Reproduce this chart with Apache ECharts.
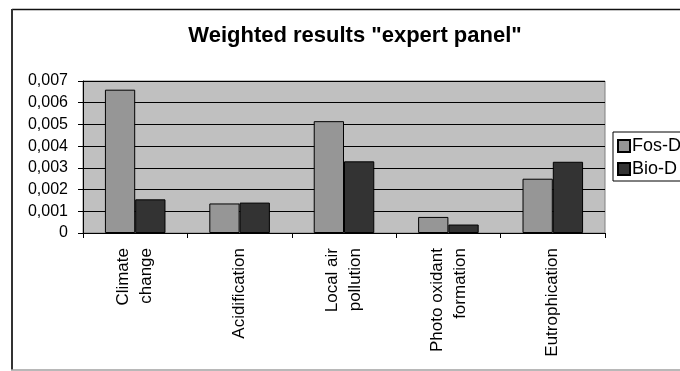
<!DOCTYPE html>
<html>
<head>
<meta charset="utf-8">
<script src="https://cdn.jsdelivr.net/npm/echarts@6/dist/echarts.min.js"></script>
<style>
  html, body { margin: 0; padding: 0; background: #fff; }
  #chart { width: 680px; height: 371px; }
</style>
</head>
<body>
<div id="chart"></div>
<script>
// Impact categories (line breaks as shown under the axis)
const categories = ['Climate\nchange', 'Acidification', 'Local air\npollution', 'Photo oxidant\nformation', 'Eutrophication'];
// Weighted scores per scenario
const fosD = [0.0066, 0.00136, 0.00515, 0.00074, 0.0025];
const bioD = [0.00155, 0.0014, 0.0033, 0.00039, 0.00328];
const seriesNames = ['Fos-D', 'Bio-D'];
const yTickLabels = ['0', '0,001', '0,002', '0,003', '0,004', '0,005', '0,006', '0,007'];

const FONT = 'Liberation Sans, Arial, sans-serif';
const chart = echarts.init(document.getElementById('chart'), null, { renderer: 'canvas' });

chart.setOption({
  animation: false,
  backgroundColor: '#ffffff',
  title: {
    text: 'Weighted results "expert panel"',
    left: 350, top: 20, textAlign: 'center',
    textStyle: { fontFamily: FONT, fontSize: 22, fontWeight: 'bold', color: '#000' }
  },
  legend: {
    orient: 'vertical',
    left: 613, top: 132,
    padding: [5, 40, 3, 4],
    itemGap: 5,
    itemWidth: 12, itemHeight: 12,
    borderColor: '#000', borderWidth: 1,
    backgroundColor: '#fff',
    textStyle: { fontFamily: FONT, fontSize: 18, color: '#000', padding: [0, 0, 0, -3] },
    data: seriesNames.map(n => ({ name: n, icon: 'rect' }))
  },
  grid: {
    left: 83, right: 75, top: 81, bottom: 138,
    show: true, backgroundColor: '#c0c0c0', borderColor: '#808080', borderWidth: 1
  },
  xAxis: {
    type: 'category',
    data: categories,
    axisLine: { lineStyle: { color: '#000', width: 1 } },
    axisTick: { show: true, length: 5, lineStyle: { color: '#000' } },
    axisLabel: {
      rotate: 90, margin: 15, interval: 0,
      fontFamily: FONT, fontSize: 17, color: '#000', lineHeight: 23
    }
  },
  yAxis: {
    type: 'value',
    min: 0, max: 0.007, interval: 0.001,
    axisLine: { show: true, lineStyle: { color: '#000' } },
    axisTick: { show: true, length: 5, lineStyle: { color: '#000' } },
    splitLine: { lineStyle: { color: '#000', width: 1 } },
    axisLabel: {
      margin: 15, fontFamily: FONT, fontSize: 16, color: '#000',
      formatter: v => yTickLabels[Math.round(v / 0.001)]
    }
  },
  series: [
    {
      name: seriesNames[0], type: 'bar', data: fosD,
      barGap: '0%', barCategoryGap: '42%',
      itemStyle: { color: '#969696', borderColor: '#000', borderWidth: 1 }
    },
    {
      name: seriesNames[1], type: 'bar', data: bioD,
      barGap: '0%', barCategoryGap: '42%',
      itemStyle: { color: '#333333', borderColor: '#000', borderWidth: 1 }
    }
  ],
  graphic: [
    // chart frame
    { type: 'line', shape: { x1: 12, y1: 9.5, x2: 680, y2: 9.5 }, style: { stroke: '#111', lineWidth: 1.5 } },
    { type: 'line', shape: { x1: 12, y1: 9, x2: 12, y2: 370 }, style: { stroke: '#333', lineWidth: 2 } },
    { type: 'line', shape: { x1: 11, y1: 370, x2: 680, y2: 370 }, style: { stroke: '#a0a0a0', lineWidth: 1.5 } }
  ]
});
</script>
</body>
</html>
